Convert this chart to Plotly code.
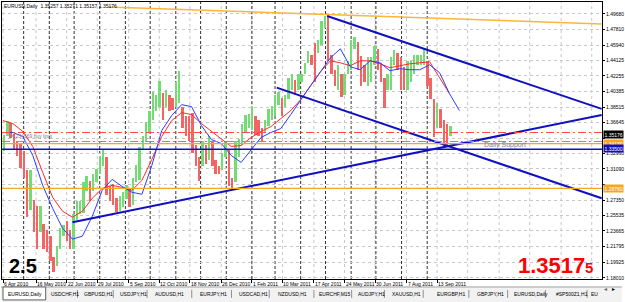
import plotly.graph_objects as go
import pandas as pd

# ---------------- data ----------------
# price columns (each column = 4 calendar days, starting 2010-04-06)
col_start = "2010-04-06"
hi = [
    1.3520, 1.3690, 1.3660, 1.3530, 1.3440, 1.3420, 1.3330, 1.3100, 1.3094, 1.2740,
    1.2670, 1.2670, 1.2450, 1.2380, 1.2300, 1.2050, 1.2180, 1.2400, 1.2440, 1.2480,
    1.2380, 1.2570, 1.2720, 1.2720, 1.2950, 1.3020, 1.2960, 1.3050, 1.3110, 1.3260,
    1.3333, 1.3250, 1.2900, 1.2930, 1.2760, 1.2780, 1.2830, 1.2920, 1.2880, 1.3000,
    1.3160, 1.3370, 1.3500, 1.3670, 1.3800, 1.4030, 1.3990, 1.4160, 1.4020, 1.4050,
    1.4000, 1.3960, 1.4150, 1.4282, 1.3850, 1.3750, 1.3750, 1.3780, 1.3400, 1.3250,
    1.3440, 1.3400, 1.3500, 1.3430, 1.3220, 1.3150, 1.3300, 1.3440, 1.3350, 1.3000,
    1.3450, 1.3470, 1.3650, 1.3760, 1.3770, 1.3860, 1.3750, 1.3700, 1.3600, 1.3700,
    1.3830, 1.3860, 1.4000, 1.4030, 1.3960, 1.4000, 1.4200, 1.4250, 1.4180, 1.4250,
    1.4250, 1.4380, 1.4520, 1.4480, 1.4620, 1.4650, 1.4880, 1.4940, 1.4940, 1.4470,
    1.4300, 1.4350, 1.4250, 1.4250, 1.4400, 1.4650, 1.4695, 1.4630, 1.4460, 1.4350,
    1.4450, 1.4450, 1.4580, 1.4550, 1.4380, 1.4200, 1.4250, 1.4450, 1.4540, 1.4500,
    1.4450, 1.4330, 1.4400, 1.4400, 1.4470, 1.4480, 1.4480, 1.4548, 1.4400, 1.4200,
    1.3950, 1.3900, 1.3830, 1.3700, 1.3650, 1.3620]
lo = [
    1.3330, 1.3500, 1.3480, 1.3340, 1.3270, 1.3120, 1.3000, 1.2530, 1.2620, 1.2350,
    1.2145, 1.2350, 1.2150, 1.2110, 1.2000, 1.1876, 1.1950, 1.2150, 1.2300, 1.2250,
    1.2150, 1.2150, 1.2500, 1.2570, 1.2580, 1.2850, 1.2720, 1.2850, 1.2950, 1.3050,
    1.3150, 1.2800, 1.2730, 1.2680, 1.2590, 1.2600, 1.2650, 1.2750, 1.2650, 1.2680,
    1.2950, 1.2980, 1.3350, 1.3430, 1.3550, 1.3700, 1.3800, 1.3850, 1.3700, 1.3850,
    1.3800, 1.3820, 1.3850, 1.3900, 1.3600, 1.3500, 1.3450, 1.3300, 1.3150, 1.2970,
    1.3150, 1.3170, 1.3220, 1.3150, 1.3050, 1.3050, 1.3100, 1.3250, 1.2900, 1.2873,
    1.2950, 1.3250, 1.3400, 1.3550, 1.3600, 1.3580, 1.3520, 1.3500, 1.3430, 1.3550,
    1.3620, 1.3700, 1.3750, 1.3880, 1.3750, 1.3850, 1.3950, 1.4050, 1.4000, 1.4050,
    1.4150, 1.4250, 1.4380, 1.4350, 1.4150, 1.4500, 1.4600, 1.4800, 1.4400, 1.4250,
    1.4100, 1.4050, 1.3968, 1.4000, 1.4250, 1.4300, 1.4550, 1.4300, 1.4100, 1.4150,
    1.4100, 1.4150, 1.4350, 1.4300, 1.4150, 1.3837, 1.4050, 1.4050, 1.4350, 1.4300,
    1.4050, 1.4050, 1.4050, 1.4150, 1.4250, 1.4350, 1.4350, 1.4350, 1.4100, 1.3950,
    1.3495, 1.3600, 1.3600, 1.3360, 1.3380, 1.3500]

# moving averages sampled every 12 days from 2010-04-06
ma_start = "2010-04-06"
ma_red = [
    1.3689, 1.3653, 1.3558, 1.3378, 1.3068, 1.2769, 1.2602, 1.2530, 1.2602, 1.2757,
    1.2876, 1.2912, 1.2888, 1.2853, 1.2972, 1.3223, 1.3498, 1.3689, 1.3785, 1.3761,
    1.3653, 1.3558, 1.3462, 1.3378, 1.3390, 1.3486, 1.3558, 1.3617, 1.3713, 1.3809,
    1.3940, 1.4108, 1.4275, 1.4406, 1.4382, 1.4347, 1.4406, 1.4406, 1.4370, 1.4323,
    1.4347, 1.4370, 1.4382, 1.4394, 1.4203, 1.4012]
ma_blue = [
    1.3546, 1.3546, 1.3498, 1.3271, 1.2912, 1.2637, 1.2398, 1.2267, 1.2303, 1.2542,
    1.2853, 1.2984, 1.2900, 1.2829, 1.2805, 1.3151, 1.3570, 1.3749, 1.3880, 1.3857,
    1.3629, 1.3462, 1.3414, 1.3271, 1.3187, 1.3331, 1.3486, 1.3546, 1.3594, 1.3761,
    1.3940, 1.4108, 1.4275, 1.4442, 1.4550, 1.4335, 1.4299, 1.4406, 1.4382, 1.4287,
    1.4311, 1.4299, 1.4299, 1.4358, 1.4263, 1.4012, 1.3809]

# trend lines (date, price) endpoints
support_dates = ["2010-06-29", "2012-03-30"]
support_prices = [1.2470, 1.3755]
chan_top_dates = ["2011-05-03", "2012-03-30"]
chan_top_prices = [1.4944, 1.3829]
chan_bot_dates = ["2011-03-03", "2012-03-30"]
chan_bot_prices = [1.4084, 1.2757]
orange_tl_dates = ["2010-08-11", "2012-03-30"]
orange_tl_prices = [1.5052, 1.4848]

# horizontal levels
level_red = 1.3546
level_green = 1.3438
level_support = 1.3413
level_blue = 1.3345
level_orange = 1.2876

# price boxes on the axis
box_values = [1.35176, 1.34130, 1.33500, 1.28760]
box_text = ["1.35176", "1.34130", "1.33500", "1.28760"]
box_bg = ["#000000", "#f5a623", "#1010c0", "#f5a623"]

# axis ticks
price_ticks = [1.49680, 1.47810, 1.45940, 1.44125, 1.42255, 1.40385, 1.38515, 1.36645,
               1.34775, 1.32960, 1.31090, 1.29220, 1.27350, 1.25535, 1.23665, 1.21795,
               1.19925, 1.18010]
price_tick_text = ["1.49680", "1.47810", "1.45940", "1.44125", "1.42255", "1.40385",
                   "1.38515", "1.36645", "", "1.32960", "1.31090", "", "1.27350",
                   "1.25535", "1.23665", "1.21795", "1.19925", "1.18010"]
date_ticks = ["2010-04-06", "2010-05-16", "2010-06-22", "2010-07-29", "2010-09-05",
              "2010-10-12", "2010-11-18", "2010-12-26", "2011-02-01", "2011-03-10",
              "2011-04-17", "2011-05-24", "2011-06-30", "2011-08-07", "2011-09-13"]
date_tick_text = ["6 Apr 2010", "16 May 2010", "22 Jun 2010", "29 Jul 2010", "5 Sep 2010",
                  "12 Oct 2010", "18 Nov 2010", "26 Dec 2010", "1 Feb 2011", "10 Mar 2011",
                  "17 Apr 2011", "24 May 2011", "30 Jun 2011", "7 Aug 2011", "13 Sep 2011"]
future_grid = ["2011-10-20", "2011-11-27", "2012-01-03", "2012-02-10", "2012-03-18"]
month_seps = pd.date_range("2010-05-01", "2011-09-01", freq="MS")

tabs = ["EURUSD,Daily", "USDCHF,H1", "GBPUSD,H1", "USDJPY,H1", "AUDUSD,H1", "EURJPY,H1",
        "USDCAD,H1", "NZDUSD,H1", "EURCHF,M15", "AUDJPY,H1", "XAUUSD,H1", "EURGBP,H1",
        "GBPJPY,H1", "EURUSD,Daily", "#SP500Z1,H1", "EU"]
tab_left_px = [6, 49, 83, 119, 154, 199, 239, 278, 319, 358, 393, 438, 478, 515, 558, 593]
tab_sep_px = [45, 77, 113, 147, 192, 232, 270, 315, 353, 386, 425, 471, 510, 548, 590]

header = "EURUSD,Daily  1.35257 1.35271 1.35157 1.35176"

# ---------------- geometry helpers (decorations only) ----------------
W, H = 625, 302
ML, MR, MT, MB = 1, 20, 1, 23
PW, PH = W - ML - MR, H - MT - MB


def pxx(px):
    return (px - ML) / PW


def pxy(py):
    return (H - MB - py) / PH


FONT = "Liberation Sans, Arial, sans-serif"

# ---------------- figure ----------------
fig = go.Figure()

col_dates = pd.date_range(col_start, periods=len(hi), freq="4D") + pd.Timedelta(hours=36)
mids = [(h + l) / 2 for h, l in zip(hi, lo)]
colors = []
for i, m in enumerate(mids):
    up = True if i == 0 else m >= mids[i - 1]
    colors.append("#74dc74" if up else "#f46464")

fig.add_trace(go.Bar(
    x=col_dates, y=[h - l for h, l in zip(hi, lo)], base=lo,
    width=2.3 * 86400000, marker=dict(color=colors, line=dict(width=0)),
    hoverinfo="skip", showlegend=False))

ma_dates = pd.date_range(ma_start, periods=len(ma_blue), freq="12D")
fig.add_trace(go.Scatter(x=ma_dates[:len(ma_red)], y=ma_red, mode="lines",
                         line=dict(color="#ff2a2a", width=1), showlegend=False))
fig.add_trace(go.Scatter(x=ma_dates, y=ma_blue, mode="lines",
                         line=dict(color="#2a3cff", width=1), showlegend=False))

for d, p, c, w in [(orange_tl_dates, orange_tl_prices, "#ffb53a", 1.5),
                   (support_dates, support_prices, "#1010c0", 2),
                   (chan_top_dates, chan_top_prices, "#1010c0", 2),
                   (chan_bot_dates, chan_bot_prices, "#1010c0", 2)]:
    fig.add_trace(go.Scatter(x=d, y=p, mode="lines", line=dict(color=c, width=w),
                             showlegend=False))

shapes = []
for d in date_ticks + future_grid:
    shapes.append(dict(type="line", xref="x", yref="paper", x0=d, x1=d, y0=0, y1=1,
                       line=dict(color="#c8c8c8", width=1, dash="dot"), layer="below"))
for d in month_seps:
    shapes.append(dict(type="line", xref="x", yref="paper", x0=d, x1=d, y0=0, y1=1,
                       line=dict(color="#303030", width=1, dash="3px,2px"), layer="below"))
for lv, c, dash, w in [(level_red, "#ff4a4a", "8px,3px,2px,3px", 1),
                       (level_green, "#3ccc3c", "8px,3px,2px,3px", 1),
                       (level_support, "#f5a623", "solid", 1.2),
                       (level_blue, "#1010c0", "solid", 1.5),
                       (level_orange, "#f5a623", "solid", 1.2)]:
    shapes.append(dict(type="line", xref="paper", yref="y", x0=0, x1=1, y0=lv, y1=lv,
                       line=dict(color=c, width=w, dash=dash), layer="above"))

# tab strip
shapes.append(dict(type="rect", xref="paper", yref="paper", x0=pxx(0), x1=pxx(W),
                   y0=pxy(H), y1=pxy(287), fillcolor="#f2f2f2", line=dict(width=0)))
shapes.append(dict(type="line", xref="paper", yref="paper", x0=pxx(0), x1=pxx(W),
                   y0=pxy(287), y1=pxy(287), line=dict(color="#a0a0a0", width=1)))
shapes.append(dict(type="rect", xref="paper", yref="paper", x0=pxx(2), x1=pxx(45),
                   y0=pxy(300), y1=pxy(287), fillcolor="#ffffff",
                   line=dict(color="#606060", width=1)))
for s in tab_sep_px[1:]:
    shapes.append(dict(type="line", xref="paper", yref="paper", x0=pxx(s), x1=pxx(s),
                       y0=pxy(298), y1=pxy(290), line=dict(color="#909090", width=1)))

annotations = []
for d, t in zip(date_ticks, date_tick_text):
    annotations.append(dict(x=d, xref="x", y=pxy(284.5), yref="paper", text=t,
                            showarrow=False, xanchor="left", yanchor="middle",
                            xshift=-1, font=dict(family=FONT, size=5, color="#000000")))
for v, t, bg in zip(box_values, box_text, box_bg):
    annotations.append(dict(x=pxx(606), xref="paper", y=v, yref="y", text=t,
                            showarrow=False, xanchor="left", yanchor="middle",
                            bgcolor=bg, borderpad=0.5,
                            font=dict(family=FONT, size=5, color="#ffffff")))
for t, px in zip(tabs, tab_left_px):
    annotations.append(dict(x=pxx(px), xref="paper", y=pxy(294), yref="paper", text=t,
                            showarrow=False, xanchor="left", yanchor="middle",
                            xshift=-1, font=dict(family=FONT, size=5, color="#000000")))
annotations.append(dict(x=pxx(612), xref="paper", y=pxy(294), yref="paper", text="◂",
                        showarrow=False, font=dict(family="DejaVu Sans", size=6, color="#606060")))
annotations.append(dict(x=pxx(620), xref="paper", y=pxy(294), yref="paper", text="▸",
                        showarrow=False, font=dict(family="DejaVu Sans", size=6, color="#000000")))
annotations.append(dict(x=pxx(2), xref="paper", y=pxy(5), yref="paper", text=header,
                        showarrow=False, xanchor="left", yanchor="middle", xshift=-1,
                        font=dict(family=FONT, size=5, color="#000000")))
annotations.append(dict(x=pxx(8), xref="paper", y=pxy(135), yref="paper",
                        text="#1234569 buy limit", showarrow=False, xanchor="left",
                        yanchor="middle", xshift=-1,
                        font=dict(family=FONT, size=5, color="#808080")))
annotations.append(dict(x=pxx(485), xref="paper", y=pxy(144.5), yref="paper",
                        text="Daily Support", showarrow=False, xanchor="left",
                        yanchor="middle", xshift=-1,
                        font=dict(family=FONT, size=7, color="#8080a0")))
annotations.append(dict(x=pxx(6), xref="paper", y=pxy(266), yref="paper", text="<b>2.5</b>",
                        showarrow=False, xanchor="left", yanchor="middle",
                        font=dict(family=FONT, size=20, color="#000000")))
annotations.append(dict(x=pxx(518), xref="paper", y=pxy(265), yref="paper",
                        text="<b>1.3517</b>", showarrow=False, xanchor="left",
                        yanchor="middle", font=dict(family=FONT, size=22, color="#ff0000")))
annotations.append(dict(x=pxx(586), xref="paper", y=pxy(267.5), yref="paper",
                        text="<b>5</b>", showarrow=False, xanchor="left",
                        yanchor="middle", font=dict(family=FONT, size=15, color="#ff0000")))

fig.update_layout(
    width=W, height=H, margin=dict(l=ML, r=MR, t=MT, b=MB),
    paper_bgcolor="#ffffff", plot_bgcolor="#ffffff",
    showlegend=False, bargap=0, shapes=shapes, annotations=annotations,
    xaxis=dict(type="date", range=["2010-04-04 19:00", "2012-03-30 10:00"],
               showgrid=False, zeroline=False, tickvals=date_ticks,
               showticklabels=False, ticks="outside", ticklen=3, tickcolor="#000000",
               showline=True, linecolor="#000000", linewidth=1, mirror=True),
    yaxis=dict(side="right", range=[1.17888, 1.51114], tickvals=price_ticks,
               ticktext=price_tick_text, showgrid=True, gridcolor="#c8c8c8",
               griddash="dot", zeroline=False, ticks="outside", ticklen=2,
               tickcolor="#000000", tickfont=dict(family=FONT, size=5, color="#000000"),
               showline=True, linecolor="#000000", linewidth=1, mirror=True),
)

fig.write_html("out.html")
